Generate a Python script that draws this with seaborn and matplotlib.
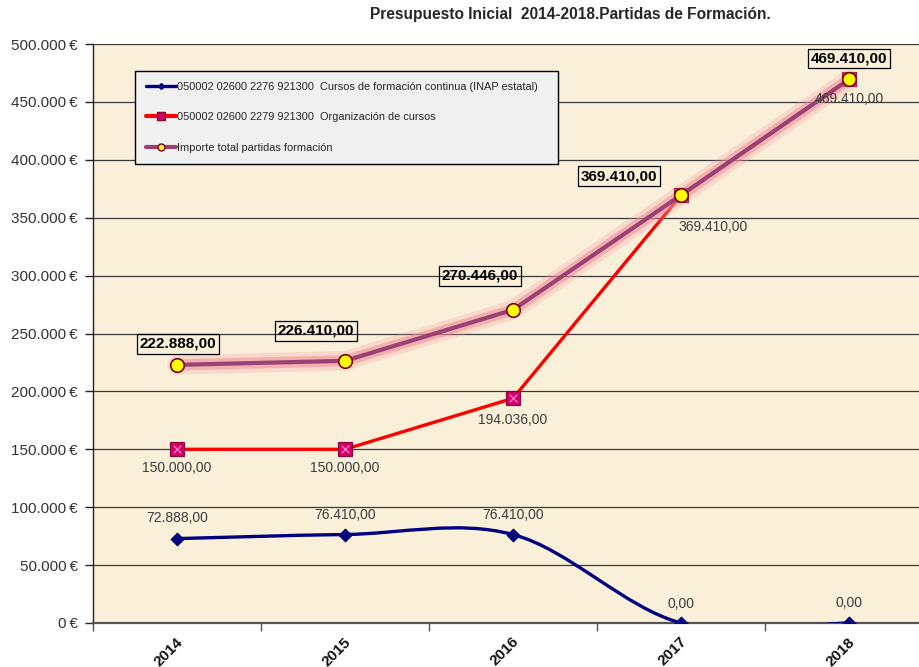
import matplotlib
matplotlib.use("Agg")
import matplotlib.pyplot as plt
import matplotlib.patheffects as pe
from matplotlib.path import Path
from matplotlib.patches import PathPatch
from matplotlib.lines import Line2D
from matplotlib.ticker import FixedLocator, FuncFormatter
import matplotlib.transforms as mtransforms
import seaborn as sns
import pandas as pd

# ---------------- data ----------------
years = ["2014", "2015", "2016", "2017", "2018"]
inap = [72888, 76410, 76410, 0, 0]
organizacion = [150000, 150000, 194036, 369410, 469410]
total = [222888, 226410, 270446, 369410, 469410]
legend_labels = [
    "050002 02600 2276 921300  Cursos de formación continua (INAP estatal)",
    "050002 02600 2279 921300  Organización de cursos",
    "Importe total partidas formación",
]
title = "Presupuesto Inicial  2014-2018.Partidas de Formación."
y_ticks = [0, 50000, 100000, 150000, 200000, 250000, 300000, 350000, 400000, 450000, 500000]

# label offsets (pixels) - layout only
total_off = [(1, 21), (-29, 30), (-33, 34), (-62, 19), (0, 21)]
org_off = [(0, -19), (0, -19), (0, -22), (32, -32), (0, -20)]
inap_off = [(0, 21), (0, 20), (0, 20), (0, 19), (0, 20)]

sns.set_style("white")
plt.rcParams["font.family"] = ["Liberation Sans", "DejaVu Sans"]

def es(v, dec=2):
    s = f"{v:,.{dec}f}"
    return s.replace(",", "X").replace(".", ",").replace("X", ".")

df = pd.DataFrame({"x": range(len(years)), "inap": inap,
                   "org": organizacion, "total": total})

fig = plt.figure(figsize=(9.2, 6.67), dpi=100)
fig.patch.set_facecolor("white")
ax = fig.add_axes([93 / 920, 44 / 667, 840 / 920, 579 / 667])
ax.set_facecolor("#FAF0DA")

ax.set_xlim(-0.5, 4.5)
ax.set_ylim(0, 500000)

# grid
ax.yaxis.set_major_locator(FixedLocator(y_ticks))
ax.grid(axis="y", color="#3a3a3a", lw=0.9)
ax.grid(axis="x", visible=False)
ax.set_axisbelow(True)

# ---- blue smoothed line (Bezier through data points) ----
xs = list(df["x"])
ys = inap
verts = [(xs[0], ys[0])]
codes = [Path.MOVETO]
n = len(xs)
for i in range(n - 1):
    p0 = (xs[max(i - 1, 0)], ys[max(i - 1, 0)])
    p1 = (xs[i], ys[i])
    p2 = (xs[i + 1], ys[i + 1])
    p3 = (xs[min(i + 2, n - 1)], ys[min(i + 2, n - 1)])
    c1 = (p1[0] + (p2[0] - p0[0]) / 6, p1[1] + (p2[1] - p0[1]) / 6)
    c2 = (p2[0] - (p3[0] - p1[0]) / 6, p2[1] - (p3[1] - p1[1]) / 6)
    verts += [c1, c2, p2]
    codes += [Path.CURVE4] * 3
patch = PathPatch(Path(verts, codes), fill=False, edgecolor="#000080", lw=2.4,
                  zorder=3, capstyle="round", joinstyle="round")
ax.add_patch(patch)
sns.scatterplot(data=df, x="x", y="inap", marker="D", s=45, color="#000080",
                edgecolor="#000080", ax=ax, zorder=4, legend=False)

# ---- red line ----
sns.lineplot(data=df, x="x", y="org", color="#FF0000", lw=2.4, ax=ax,
             zorder=5, legend=False, marker="s", markersize=10,
             markerfacecolor="#D0006A", markeredgecolor="#8C0030",
             markeredgewidth=0.8)
sns.scatterplot(data=df, x="x", y="org", marker="x", s=30, color="#FF6FC8",
                linewidth=1.0, ax=ax, zorder=6, legend=False)

# ---- total line with glow ----
glow = [pe.Stroke(linewidth=14, foreground="#F29AA0", alpha=0.28),
        pe.Stroke(linewidth=8, foreground="#EC8A96", alpha=0.5),
        pe.Normal()]
sns.lineplot(data=df, x="x", y="total", color="#9A4074", lw=3.0, ax=ax,
             zorder=7, legend=False)
ax.lines[-1].set_path_effects(glow)
sns.scatterplot(data=df, x="x", y="total", marker="o", s=95, color="#FFFF00",
                edgecolor="#7A0015", linewidth=1.2, ax=ax, zorder=8,
                legend=False)

# ---- data labels ----
for i in range(n):
    ax.annotate(es(total[i]), (i, total[i]), xytext=total_off[i],
                textcoords="offset pixels", ha="center", va="center",
                fontsize=11, fontweight="bold", color="black", zorder=10,
                bbox=dict(boxstyle="square,pad=0.18", fc="none", ec="black", lw=0.9))
    ax.annotate(es(organizacion[i]), (i, organizacion[i]), xytext=org_off[i],
                textcoords="offset pixels", ha="center", va="center",
                fontsize=10, color="#3c3c3c", zorder=9)
    ax.annotate(es(inap[i]), (i, inap[i]), xytext=inap_off[i],
                textcoords="offset pixels", ha="center", va="center",
                fontsize=10, color="#3c3c3c", zorder=9)

# ---- axes styling ----
for s in ["top", "right"]:
    ax.spines[s].set_visible(False)
ax.spines["left"].set_color("#222222")
ax.spines["left"].set_linewidth(1.0)
ax.spines["bottom"].set_color("#555555")
ax.spines["bottom"].set_linewidth(1.6)

ax.yaxis.set_major_formatter(FuncFormatter(lambda v, p: f"{es(v, 0)}\u2009€"))
ax.tick_params(axis="y", direction="out", length=6, width=1, color="#222222",
               labelsize=11, pad=5, labelcolor="#333333", left=True)

ax.set_xticks(range(n))
ax.set_xticklabels(years, rotation=45, ha="right", va="center",
                   rotation_mode="anchor", fontweight="bold", fontsize=11)
ax.set_xticks([-0.5, 0.5, 1.5, 2.5, 3.5], minor=True)
ax.tick_params(axis="x", which="major", length=0, pad=12, labelcolor="#111111")
ax.tick_params(axis="x", which="minor", direction="out", length=6, width=1,
               color="#555555", bottom=True)
offset = mtransforms.ScaledTranslation(4 / 100, 0, fig.dpi_scale_trans)
for lab in ax.get_xticklabels():
    lab.set_transform(lab.get_transform() + offset)
ax.set_xlabel("")
ax.set_ylabel("")

# ---- legend ----
handles = [
    Line2D([], [], color="#000080", lw=2.4, marker="D", markersize=3,
           markerfacecolor="#000080"),
    Line2D([], [], color="#FF0000", lw=3.0, marker="s", markersize=6,
           markerfacecolor="#D0006A", markeredgecolor="#8C0030"),
    Line2D([], [], color="#9A4074", lw=3.0, marker="o", markersize=5,
           markerfacecolor="#FFFF00", markeredgecolor="#7A0015"),
]
leg = ax.legend(handles, legend_labels, loc="upper left",
                bbox_to_anchor=(42 / 840, (623 - 71) / 579, 423 / 840, 0),
                mode="expand", borderaxespad=0, fontsize=7.9,
                labelspacing=1.85, handlelength=2.7, handletextpad=0.1,
                borderpad=1.0, frameon=True, fancybox=False)
leg.get_frame().set_facecolor("#F0F0F0")
leg.get_frame().set_edgecolor("black")
leg.get_frame().set_linewidth(1.0)
leg.get_frame().set_alpha(1)
leg.set_zorder(20)

fig.text(570 / 920, 1 - 15 / 667, title, ha="center", va="center",
         fontsize=11.2, fontweight="bold")

fig.savefig("out.png", dpi=100)
